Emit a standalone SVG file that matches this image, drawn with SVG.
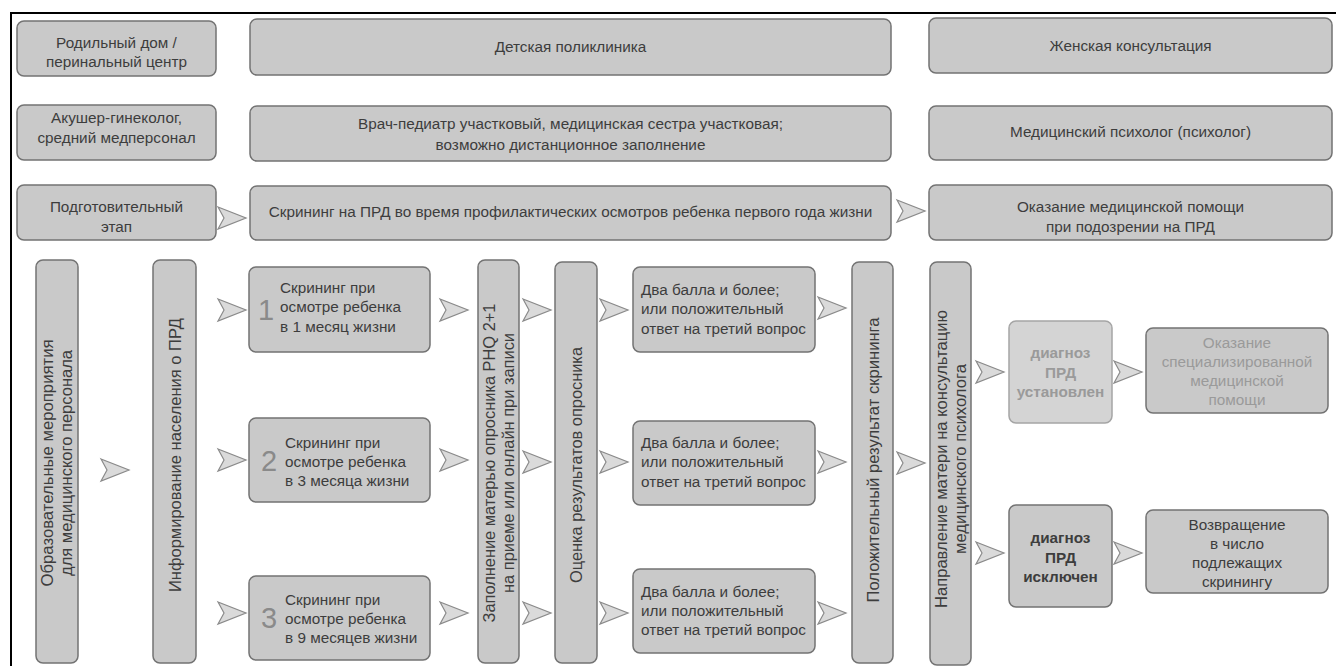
<svg xmlns="http://www.w3.org/2000/svg" xmlns:xlink="http://www.w3.org/1999/xlink" width="1336" height="666" viewBox="0 0 1336 666">
<defs>
<style>
.b{fill:#c9c9c9;stroke:#737373;stroke-width:1.5}
.bl{fill:#d4d4d4;stroke:#a5a5a5;stroke-width:1.5}
.t{font-family:"Liberation Sans",Arial,sans-serif;font-size:15.3px;fill:#3d3d3d}
.v{font-family:"Liberation Sans",Arial,sans-serif;font-size:16.5px;fill:#3d3d3d;text-anchor:middle}
.c{text-anchor:middle}
.lt{fill:#9a9a9a}
.bd{font-weight:bold}
.num{font-family:"Liberation Sans",Arial,sans-serif;font-size:29px;fill:#8a8a8a}
.a{fill:#dadada;stroke:#8a8a8a;stroke-width:1.2;stroke-linejoin:miter}
</style>
<path id="arr" class="a" d="M0,-11 L28,0 L0,11 L6,0 Z"/>
</defs>
<rect width="1336" height="666" fill="#fff"/>
<rect x="11" y="13" width="1340" height="670" fill="none" stroke="#000" stroke-width="2"/>

<g id="n1"><rect class="b" x="17" y="21" width="199" height="55" rx="7"/><text class="t c" x="116.5" y="48">Родильный дом /</text><text class="t c" x="116.5" y="67">перинальный центр</text></g>
<g id="n2"><rect class="b" x="250" y="19" width="641" height="56" rx="7"/><text class="t c" x="570.5" y="52">Детская поликлиника</text></g>
<g id="n3"><rect class="b" x="929" y="18" width="403" height="55" rx="7"/><text class="t c" x="1130.5" y="51">Женская консультация</text></g>

<g id="n4"><rect class="b" x="17" y="105" width="199" height="55" rx="7"/><text class="t c" x="116.5" y="123">Акушер-гинеколог,</text><text class="t c" x="116.5" y="143">средний медперсонал</text></g>
<g id="n5"><rect class="b" x="250" y="106" width="641" height="55" rx="7"/><text class="t c" x="570.5" y="129">Врач-педиатр участковый, медицинская сестра участковая;</text><text class="t c" x="570.5" y="150">возможно дистанционное заполнение</text></g>
<g id="n6"><rect class="b" x="929" y="106" width="403" height="54" rx="7"/><text class="t c" x="1130.5" y="137">Медицинский психолог (психолог)</text></g>

<g id="n7"><rect class="b" x="17" y="185" width="199" height="55" rx="7"/><text class="t c" x="116.5" y="212">Подготовительный</text><text class="t c" x="116.5" y="232">этап</text></g>
<g id="n8"><rect class="b" x="250" y="186" width="641" height="54" rx="7"/><text class="t c" x="570.5" y="217">Скрининг на ПРД во время профилактических осмотров ребенка первого года жизни</text></g>
<g id="n9"><rect class="b" x="929" y="185" width="403" height="55" rx="7"/><text class="t c" x="1130.5" y="212">Оказание медицинской помощи</text><text class="t c" x="1130.5" y="232">при подозрении на ПРД</text></g>

<g id="v1"><rect class="b" x="36" y="260" width="42" height="403" rx="7"/><text class="v" transform="translate(57,463) rotate(-90)"><tspan x="0" y="-4" textLength="247" lengthAdjust="spacingAndGlyphs">Образовательные мероприятия</tspan><tspan x="0" y="15" textLength="226" lengthAdjust="spacingAndGlyphs">для медицинского персонала</tspan></text></g>
<g id="v2"><rect class="b" x="153" y="260" width="43" height="403" rx="7"/><text class="v" transform="translate(174.5,455) rotate(-90)" x="0" y="6" textLength="274" lengthAdjust="spacingAndGlyphs">Информирование населения о ПРД</text></g>

<g id="s1"><rect class="b" x="249" y="267" width="181" height="85" rx="7"/><text class="num" x="258" y="320">1</text><text class="t" x="280" y="293">Скрининг при</text><text class="t" x="280" y="312">осмотре ребенка</text><text class="t" x="280" y="332">в 1 месяц жизни</text></g>
<g id="s2"><rect class="b" x="249" y="418" width="181" height="84" rx="7"/><text class="num" x="261" y="471">2</text><text class="t" x="285" y="448">Скрининг при</text><text class="t" x="285" y="467">осмотре ребенка</text><text class="t" x="285" y="486">в 3 месяца жизни</text></g>
<g id="s3"><rect class="b" x="249" y="576" width="181" height="84" rx="7"/><text class="num" x="261" y="628">3</text><text class="t" x="285" y="605">Скрининг при</text><text class="t" x="285" y="624">осмотре ребенка</text><text class="t" x="285" y="643">в 9 месяцев жизни</text></g>

<g id="v3"><rect class="b" x="478" y="260" width="41" height="403" rx="7"/><text class="v" transform="translate(498.5,463) rotate(-90)"><tspan x="0" y="-4" textLength="319" lengthAdjust="spacingAndGlyphs">Заполнение матерью опросника PHQ 2+1</tspan><tspan x="0" y="15" textLength="260" lengthAdjust="spacingAndGlyphs">на приеме или онлайн при записи</tspan></text></g>
<g id="v4"><rect class="b" x="555" y="262" width="42" height="401" rx="7"/><text class="v" transform="translate(576,465) rotate(-90)" x="0" y="6" textLength="236" lengthAdjust="spacingAndGlyphs">Оценка результатов опросника</text></g>

<g id="t1"><rect class="b" x="633" y="267" width="182" height="85" rx="7"/><text class="t" x="641" y="295">Два балла и более;</text><text class="t" x="641" y="314">или положительный</text><text class="t" x="641" y="334">ответ на третий вопрос</text></g>
<g id="t2"><rect class="b" x="633" y="421" width="182" height="84" rx="7"/><text class="t" x="641" y="448">Два балла и более;</text><text class="t" x="641" y="467">или положительный</text><text class="t" x="641" y="487">ответ на третий вопрос</text></g>
<g id="t3"><rect class="b" x="633" y="569" width="182" height="84" rx="7"/><text class="t" x="641" y="597">Два балла и более;</text><text class="t" x="641" y="616">или положительный</text><text class="t" x="641" y="635">ответ на третий вопрос</text></g>

<g id="v5"><rect class="b" x="852" y="262" width="41" height="401" rx="7"/><text class="v" transform="translate(872.5,460) rotate(-90)" x="0" y="6" textLength="285" lengthAdjust="spacingAndGlyphs">Положительный результат скрининга</text></g>
<g id="v6"><rect class="b" x="930" y="262" width="41" height="403" rx="7"/><text class="v" transform="translate(950.5,459) rotate(-90)"><tspan x="0" y="-4" textLength="298" lengthAdjust="spacingAndGlyphs">Направление матери на консультацию</tspan><tspan x="0" y="15" textLength="190" lengthAdjust="spacingAndGlyphs">медицинского психолога</tspan></text></g>

<g id="d1"><rect class="bl" x="1009" y="321" width="103" height="102" rx="7"/><text class="t c bd lt" x="1060.5" y="358">диагноз</text><text class="t c bd lt" x="1060.5" y="378">ПРД</text><text class="t c bd lt" x="1060.5" y="397">установлен</text></g>
<g id="o1"><rect class="b" x="1146" y="328" width="182" height="85" rx="7"/><text class="t c lt" x="1237" y="348">Оказание</text><text class="t c lt" x="1237" y="367">специализированной</text><text class="t c lt" x="1237" y="386">медицинской</text><text class="t c lt" x="1237" y="405">помощи</text></g>
<g id="d2"><rect class="b" x="1009" y="505" width="103" height="102" rx="7"/><text class="t c bd" x="1060.5" y="543">диагноз</text><text class="t c bd" x="1060.5" y="563">ПРД</text><text class="t c bd" x="1060.5" y="582">исключен</text></g>
<g id="o2"><rect class="b" x="1146" y="510" width="182" height="83" rx="7"/><text class="t c" x="1237" y="530">Возвращение</text><text class="t c" x="1237" y="549">в число</text><text class="t c" x="1237" y="568">подлежащих</text><text class="t c" x="1237" y="587">скринингу</text></g>

<g id="connectors">
<use xlink:href="#arr" x="218" y="218"/>
<use xlink:href="#arr" x="897" y="211"/>
<use xlink:href="#arr" x="101" y="470"/>
<use xlink:href="#arr" x="218" y="310"/>
<use xlink:href="#arr" x="218" y="460"/>
<use xlink:href="#arr" x="218" y="613"/>
<use xlink:href="#arr" x="440" y="310"/>
<use xlink:href="#arr" x="440" y="460"/>
<use xlink:href="#arr" x="440" y="613"/>
<use xlink:href="#arr" x="523" y="310"/>
<use xlink:href="#arr" x="523" y="462"/>
<use xlink:href="#arr" x="523" y="613"/>
<use xlink:href="#arr" x="600" y="310"/>
<use xlink:href="#arr" x="600" y="462"/>
<use xlink:href="#arr" x="600" y="613"/>
<use xlink:href="#arr" x="818" y="308"/>
<use xlink:href="#arr" x="818" y="462"/>
<use xlink:href="#arr" x="818" y="613"/>
<use xlink:href="#arr" x="897" y="463"/>
<use xlink:href="#arr" x="976" y="372"/>
<use xlink:href="#arr" x="976" y="553"/>
<use xlink:href="#arr" x="1114" y="372"/>
<use xlink:href="#arr" x="1114" y="553"/>
</g>
</svg>
